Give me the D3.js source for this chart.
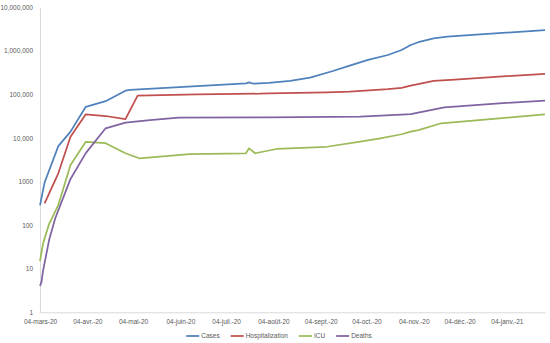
<!DOCTYPE html>
<meta charset="utf-8">
<style>
    body { margin: 0; background: #fff; }
    text { font-family: "Liberation Sans", Arial, sans-serif; font-size: 6.5px; fill: #595959; }
    .axis path.domain { stroke: #d9d9d9; stroke-width: 1; }
    path.line { fill: none; stroke-width: 1.75; stroke-linejoin: round; }
</style>
<body>
<script src="https://cdnjs.cloudflare.com/ajax/libs/d3/7.8.5/d3.min.js"></script>
<script>
    var width = 550, height = 343;

    // tick labels
    var xTickDates = ["2020-03-04", "2020-04-04", "2020-05-04", "2020-06-04", "2020-07-04", "2020-08-04",
        "2020-09-04", "2020-10-04", "2020-11-04", "2020-12-04", "2021-01-04"];
    var xTickLabels = ["04-mars-20", "04-avr.-20", "04-mai-20", "04-juin-20", "04-juil.-20", "04-août-20",
        "04-sept.-20", "04-oct.-20", "04-nov.-20", "04-déc.-20", "04-janv.-21"];
    var yTickValues = [1, 10, 100, 1000, 10000, 100000, 1000000, 10000000];
    var yTickLabels = ["1", "10", "100", "1000", "10,000", "100,000", "1,000,000", "10,000,000"];

    // series
    var casesDates = ["2020-03-04", "2020-03-07", "2020-03-16", "2020-03-24", "2020-04-03", "2020-04-16",
        "2020-04-29", "2020-05-02", "2020-06-15", "2020-07-17", "2020-07-19", "2020-07-22", "2020-08-01",
        "2020-08-15", "2020-08-28", "2020-09-12", "2020-09-23", "2020-10-05", "2020-10-18", "2020-10-27",
        "2020-11-02", "2020-11-07", "2020-11-17", "2020-11-26", "2020-12-15", "2021-01-29"];
    var casesValues = [285, 950, 6500, 14000, 52000, 70000, 122000, 127000, 155000, 180000, 190000, 176000,
        185000, 205000, 243000, 345000, 457000, 620000, 804000, 1050000, 1360000, 1580000, 1940000, 2110000,
        2360000, 3000000];

    var hospDates = ["2020-03-07", "2020-03-16", "2020-03-24", "2020-04-03", "2020-04-16", "2020-04-29",
        "2020-05-07", "2020-06-15", "2020-07-26", "2020-08-01", "2020-09-08", "2020-09-23", "2020-10-18",
        "2020-10-27", "2020-11-02", "2020-11-17", "2020-12-01", "2020-12-30", "2021-01-29"];
    var hospValues = [318, 1550, 10700, 35000, 32000, 27000, 94000, 100000, 104000, 106000, 112000, 116000,
        133000, 142000, 159000, 204000, 220000, 257000, 295000];

    var icuDates = ["2020-03-04", "2020-03-06", "2020-03-10", "2020-03-16", "2020-03-24", "2020-04-03",
        "2020-04-16", "2020-04-29", "2020-05-08", "2020-06-10", "2020-07-17", "2020-07-19", "2020-07-23",
        "2020-08-06", "2020-09-08", "2020-09-30", "2020-10-13", "2020-10-27", "2020-11-02", "2020-11-07",
        "2020-11-22", "2020-12-30", "2021-01-29"];
    var icuValues = [15, 38, 107, 290, 2400, 8200, 7600, 4470, 3430, 4250, 4470, 5800, 4470, 5600, 6300,
        8250, 9800, 12200, 14000, 15200, 21800, 28400, 34700];

    var deathsDates = ["2020-03-04", "2020-03-05", "2020-03-06", "2020-03-10", "2020-03-14", "2020-03-24",
        "2020-04-03", "2020-04-16", "2020-04-29", "2020-05-15", "2020-06-03", "2020-08-01", "2020-09-30",
        "2020-10-27", "2020-11-02", "2020-11-24", "2020-12-30", "2021-01-29"];
    var deathsValues = [4, 5, 9, 46, 144, 1150, 4500, 16700, 22500, 25800, 29200, 29800, 30900, 34500,
        35500, 50700, 62600, 71900];

    var seriesNames = ["Cases", "Hospitalization", "ICU", "Deaths"];
    var seriesColors = ["#4f81bd", "#c0504d", "#9bbb59", "#8064a2"];

    var parseDate = d3.utcParse("%Y-%m-%d");

    function zipSeries(dates, values) {
        return dates.map(function (d, i) {
            return {date: parseDate(d), value: values[i]};
        });
    }

    var series = [
        zipSeries(casesDates, casesValues),
        zipSeries(hospDates, hospValues),
        zipSeries(icuDates, icuValues),
        zipSeries(deathsDates, deathsValues)
    ];

    var x = d3.scaleUtc()
            .domain([parseDate("2020-03-04"), parseDate("2021-01-29")])
            .range([40, 545]);
    var y = d3.scaleLog()
            .domain([1, 10000000])
            .range([312.3, 7.3]);

    var svg = d3.select("body").append("svg")
            .attr("width", width)
            .attr("height", height);

    var xAxis = d3.axisBottom(x)
            .tickValues(xTickDates.map(parseDate))
            .tickFormat(function (d, i) { return xTickLabels[i]; })
            .tickSize(0)
            .tickPadding(7);

    var yAxis = d3.axisLeft(y)
            .tickValues(yTickValues)
            .tickFormat(function (d, i) { return yTickLabels[i]; })
            .tickSize(0)
            .tickPadding(7);

    svg.append("g")
            .attr("class", "x axis")
            .attr("transform", "translate(0," + y(1) + ")")
            .call(xAxis);

    svg.append("g")
            .attr("class", "y axis")
            .attr("transform", "translate(" + x.range()[0] + ",0)")
            .call(yAxis);

    svg.selectAll(".axis").attr("font-family", null).attr("font-size", null);
    svg.selectAll(".axis text").attr("fill", "#595959");
    svg.selectAll(".axis path.domain").attr("stroke", "#d9d9d9");

    var line = d3.line()
            .x(function (d) { return x(d.date); })
            .y(function (d) { return y(d.value); });

    svg.selectAll("path.line")
            .data(series)
        .enter().append("path")
            .attr("class", "line")
            .attr("stroke", function (d, i) { return seriesColors[i]; })
            .attr("d", line);

    // legend, centred under the plot
    var legend = svg.append("g").attr("class", "legend");
    var legendY = 336, lineLen = 13, cursor = 0;
    var items = legend.selectAll("g")
            .data(seriesNames)
        .enter().append("g");
    items.append("line")
            .attr("x1", 0).attr("x2", lineLen)
            .attr("y1", legendY).attr("y2", legendY)
            .attr("stroke", function (d, i) { return seriesColors[i]; })
            .attr("stroke-width", 1.75);
    items.append("text")
            .attr("x", lineLen + 2)
            .attr("y", legendY)
            .attr("dy", "0.33em")
            .text(function (d) { return d; });
    items.each(function () {
        var g = d3.select(this);
        g.attr("transform", "translate(" + cursor + ",0)");
        cursor += lineLen + 2 + g.select("text").node().getComputedTextLength() + 11;
    });
    var legendWidth = cursor - 11;
    legend.attr("transform", "translate(" + (279 - legendWidth / 2) + ",0)");
</script>
